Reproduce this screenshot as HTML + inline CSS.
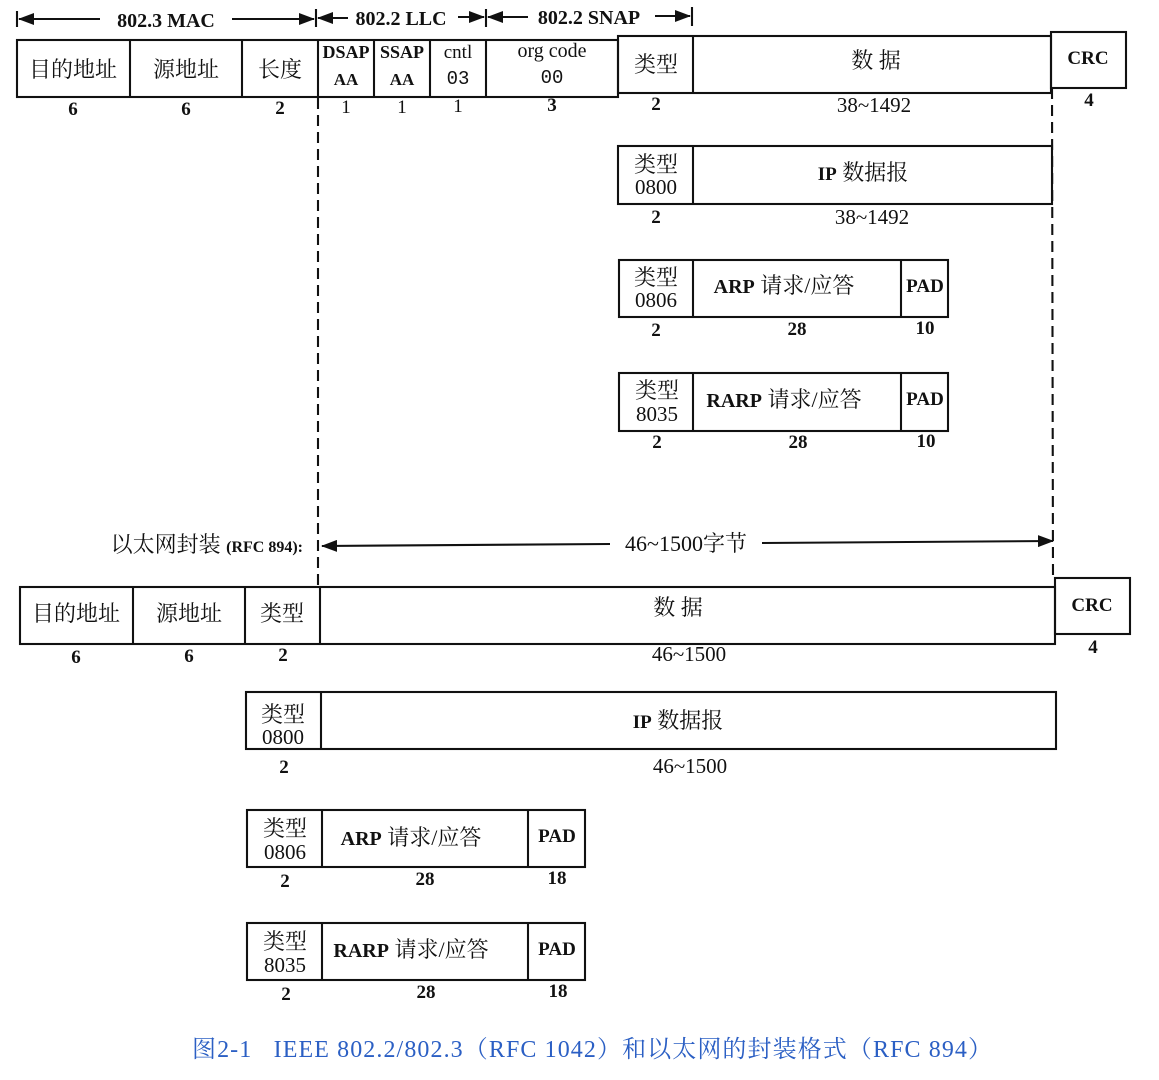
<!DOCTYPE html>
<html><head><meta charset="utf-8"><style>
html,body{margin:0;padding:0;background:#fff;}
svg{display:block;}
text{font-family:"Liberation Serif","Noto Serif CJK SC",serif;fill:#111;}
.c{font-size:22px;}
.n{font-size:19px;}
.b{font-weight:bold;}
</style></head><body>
<svg width="1159" height="1080" viewBox="0 0 1159 1080" xmlns="http://www.w3.org/2000/svg">
<defs>
<marker id="ah" markerWidth="16" markerHeight="12" refX="15" refY="6" orient="auto" markerUnits="userSpaceOnUse"><path d="M0,0 L16,6 L0,12 z" fill="#111"/></marker>
</defs>
<g stroke="#111" stroke-width="2.1" fill="none">
<line x1="17" y1="11" x2="17" y2="27"/>
<line x1="316" y1="9" x2="316" y2="27"/>
<line x1="486" y1="9" x2="486" y2="27"/>
<line x1="692" y1="7" x2="692" y2="26"/>
<line x1="100" y1="19" x2="19" y2="19" marker-end="url(#ah)"/>
<line x1="232" y1="19" x2="314" y2="19" marker-end="url(#ah)"/>
<line x1="348" y1="18" x2="318" y2="18" marker-end="url(#ah)"/>
<line x1="458" y1="17" x2="484" y2="17" marker-end="url(#ah)"/>
<line x1="528" y1="17" x2="488" y2="17" marker-end="url(#ah)"/>
<line x1="655" y1="16" x2="690" y2="16" marker-end="url(#ah)"/>
<rect x="17" y="40" width="601" height="57"/>
<line x1="130" y1="40" x2="130" y2="97"/>
<line x1="242" y1="40" x2="242" y2="97"/>
<line x1="318" y1="40" x2="318" y2="97"/>
<line x1="374" y1="40" x2="374" y2="97"/>
<line x1="430" y1="40" x2="430" y2="97"/>
<line x1="486" y1="40" x2="486" y2="97"/>
<rect x="618" y="36" width="433" height="57"/>
<line x1="693" y1="36" x2="693" y2="93"/>
<rect x="1051" y="32" width="75" height="56"/>
<line x1="318" y1="98" x2="318" y2="586" stroke-dasharray="11,6"/>
<line x1="1052" y1="88" x2="1053" y2="578" stroke-dasharray="11,6"/>
<rect x="618" y="146" width="434" height="58"/>
<line x1="693" y1="146" x2="693" y2="204"/>
<rect x="619" y="260" width="329" height="57"/>
<line x1="693" y1="260" x2="693" y2="317"/>
<line x1="901" y1="260" x2="901" y2="317"/>
<rect x="619" y="373" width="329" height="58"/>
<line x1="693" y1="373" x2="693" y2="431"/>
<line x1="901" y1="373" x2="901" y2="431"/>
<line x1="610" y1="544" x2="322" y2="546" marker-end="url(#ah)"/>
<line x1="762" y1="543" x2="1053" y2="541" marker-end="url(#ah)"/>
<rect x="20" y="587" width="1035" height="57"/>
<line x1="133" y1="587" x2="133" y2="644"/>
<line x1="245" y1="587" x2="245" y2="644"/>
<line x1="320" y1="587" x2="320" y2="644"/>
<rect x="1055" y="578" width="75" height="56"/>
<rect x="246" y="692" width="810" height="57"/>
<line x1="321" y1="692" x2="321" y2="749"/>
<rect x="247" y="810" width="338" height="57"/>
<line x1="322" y1="810" x2="322" y2="867"/>
<line x1="528" y1="810" x2="528" y2="867"/>
<rect x="247" y="923" width="338" height="57"/>
<line x1="322" y1="923" x2="322" y2="980"/>
<line x1="528" y1="923" x2="528" y2="980"/>
</g>
<g text-anchor="middle">
<text x="166" y="27" class="n b" style="font-size:20px">802.3 MAC</text>
<text x="401" y="25" class="n b" style="font-size:20px">802.2 LLC</text>
<text x="589" y="24" class="n b" style="font-size:20px">802.2 SNAP</text>
<text x="73" y="77" class="c">目的地址</text>
<text x="186" y="77" class="c">源地址</text>
<text x="280" y="77" class="c">长度</text>
<text x="346" y="58" class="n b" style="font-size:18px">DSAP</text>
<text x="402" y="58" class="n b" style="font-size:18px">SSAP</text>
<text x="458" y="58" class="n">cntl</text>
<text x="346" y="85" class="n b" style="font-size:17px">AA</text>
<text x="402" y="85" class="n b" style="font-size:17px">AA</text>
<text x="458" y="84" class="n" style="font-family:'Liberation Mono',monospace">03</text>
<text x="552" y="57" class="n" style="font-size:20px">org code</text>
<text x="552" y="83" class="n" style="font-family:'Liberation Mono',monospace">00</text>
<text x="656" y="72" class="c">类型</text>
<text x="876" y="68" class="c">数 据</text>
<text x="1088" y="64" class="n b">CRC</text>
<text x="73" y="115" class="n b">6</text>
<text x="186" y="115" class="n b">6</text>
<text x="280" y="114" class="n b">2</text>
<text x="346" y="113" class="n">1</text>
<text x="402" y="113" class="n">1</text>
<text x="458" y="112" class="n">1</text>
<text x="552" y="111" class="n b">3</text>
<text x="656" y="110" class="n b">2</text>
<text x="874" y="112" class="n" style="font-size:21px">38~1492</text>
<text x="1089" y="106" class="n b">4</text>
<text x="656" y="172" class="c">类型</text>
<text x="656" y="194" class="n" style="font-size:21px">0800</text>
<text x="863" y="180" class="c"><tspan class="b" style="font-size:19px">IP</tspan> 数据报</text>
<text x="656" y="223" class="n b">2</text>
<text x="872" y="224" class="n" style="font-size:21px">38~1492</text>
<text x="656" y="285" class="c">类型</text>
<text x="656" y="307" class="n" style="font-size:21px">0806</text>
<text x="784" y="293" class="c"><tspan class="b" style="font-size:20px">ARP</tspan> 请求/应答</text>
<text x="925" y="292" class="n b">PAD</text>
<text x="656" y="336" class="n b">2</text>
<text x="797" y="335" class="n b">28</text>
<text x="925" y="334" class="n b">10</text>
<text x="657" y="398" class="c">类型</text>
<text x="657" y="421" class="n" style="font-size:21px">8035</text>
<text x="784" y="407" class="c"><tspan class="b" style="font-size:20px">RARP</tspan> 请求/应答</text>
<text x="925" y="405" class="n b">PAD</text>
<text x="657" y="448" class="n b">2</text>
<text x="798" y="448" class="n b">28</text>
<text x="926" y="447" class="n b">10</text>
<text x="686" y="551" class="c">46~1500字节</text>
<text x="76" y="621" class="c">目的地址</text>
<text x="189" y="621" class="c">源地址</text>
<text x="282" y="621" class="c">类型</text>
<text x="678" y="615" class="c">数 据</text>
<text x="1092" y="611" class="n b">CRC</text>
<text x="76" y="663" class="n b">6</text>
<text x="189" y="662" class="n b">6</text>
<text x="283" y="661" class="n b">2</text>
<text x="689" y="661" class="n" style="font-size:21px">46~1500</text>
<text x="1093" y="653" class="n b">4</text>
<text x="283" y="722" class="c">类型</text>
<text x="283" y="744" class="n" style="font-size:21px">0800</text>
<text x="678" y="728" class="c"><tspan class="b" style="font-size:19px">IP</tspan> 数据报</text>
<text x="284" y="773" class="n b">2</text>
<text x="690" y="773" class="n" style="font-size:21px">46~1500</text>
<text x="285" y="836" class="c">类型</text>
<text x="285" y="859" class="n" style="font-size:21px">0806</text>
<text x="411" y="845" class="c"><tspan class="b" style="font-size:20px">ARP</tspan> 请求/应答</text>
<text x="557" y="842" class="n b">PAD</text>
<text x="285" y="887" class="n b">2</text>
<text x="425" y="885" class="n b">28</text>
<text x="557" y="884" class="n b">18</text>
<text x="285" y="949" class="c">类型</text>
<text x="285" y="972" class="n" style="font-size:21px">8035</text>
<text x="411" y="957" class="c"><tspan class="b" style="font-size:20px">RARP</tspan> 请求/应答</text>
<text x="557" y="955" class="n b">PAD</text>
<text x="286" y="1000" class="n b">2</text>
<text x="426" y="998" class="n b">28</text>
<text x="558" y="997" class="n b">18</text>
</g>
<text x="303" y="552" text-anchor="end" class="c">以太网封装 <tspan class="b" style="font-size:16px">(RFC 894):</tspan></text>
<text x="192" y="1057" xml:space="preserve" textLength="800" lengthAdjust="spacing" style="font-size:24px;fill:#2b5fc4">图2-1   IEEE 802.2/802.3（RFC 1042）和以太网的封装格式（RFC 894）</text>
</svg>
</body></html>
